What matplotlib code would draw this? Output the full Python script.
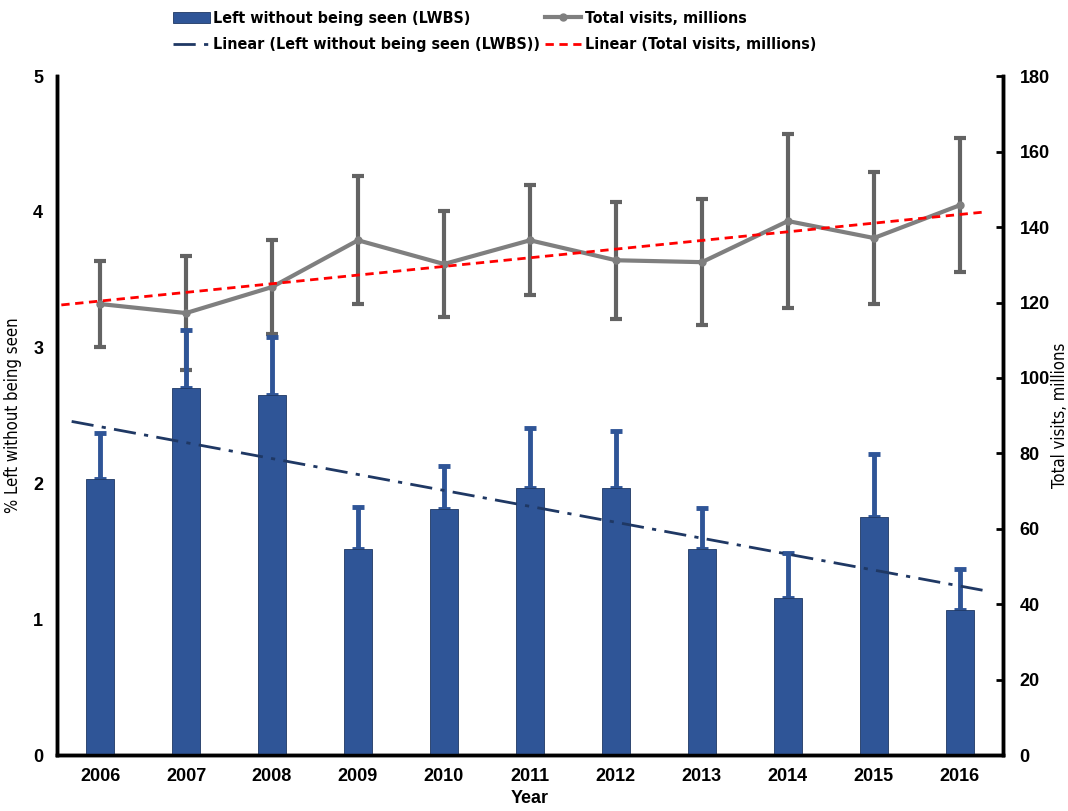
import matplotlib.pyplot as plt
import numpy as np
from matplotlib import font_manager
from matplotlib.font_manager import FontProperties

years = ["2006", "2007", "2008", "2009", "2010", "2011", "2012", "2013", "2014", "2015", "2016"]

# % left without being seen, with upper error
lwbs = [2.03, 2.70, 2.65, 1.52, 1.81, 1.97, 1.97, 1.52, 1.16, 1.75, 1.07]
lwbs_err = [0.34, 0.43, 0.43, 0.31, 0.32, 0.44, 0.42, 0.30, 0.33, 0.47, 0.30]

# total visits in millions, symmetric error
visits = [119.6, 117.2, 124.1, 136.5, 130.2, 136.5, 131.2, 130.7, 141.6, 137.1, 145.8]
visits_err = [11.5, 15.0, 12.5, 17.0, 14.0, 14.6, 15.5, 16.7, 23.0, 17.4, 17.7]

plt.rcParams['font.family'] = ['Liberation Sans', 'DejaVu Sans']


def pick_narrow(bold):
    # look for any condensed / narrow face that happens to be installed
    for f in font_manager.fontManager.ttflist:
        key = (f.name + ' ' + f.fname).lower()
        if ('narrow' in key or 'condensed' in key) and (f.weight in ('bold', 700)) == bold:
            if 'oblique' in key or 'italic' in key:
                continue
            return f.fname
    return None


nb = pick_narrow(True)
nr = pick_narrow(False)
if nb:
    legend_prop = FontProperties(fname=nb, size=11.5)
else:
    legend_prop = FontProperties(family='Liberation Sans', weight='bold', size=10)
if nr:
    label_prop = FontProperties(fname=nr, size=12)
else:
    label_prop = FontProperties(family='Liberation Sans', size=11)

fig = plt.figure(figsize=(10.68, 8.11), dpi=100)
ax = fig.add_axes([0.0534, 0.069, 0.8856, 0.837])
ax2 = ax.twinx()

x = np.arange(len(years))
bar_color = '#2f5597'

bars = ax.bar(x, lwbs, width=0.33, color=bar_color, edgecolor='#1f3864', linewidth=0.6,
              label='Left without being seen (LWBS)', zorder=2)
ax.errorbar(x, lwbs, yerr=[np.zeros(len(x)), lwbs_err], fmt='none', ecolor=bar_color,
            elinewidth=3.5, capsize=4, capthick=3.5, zorder=1)

# linear trend lines
p1 = np.polyfit(x, lwbs, 1)
p2 = np.polyfit(x, visits, 1)
xt1 = np.array([-0.33, 10.29])
xt2 = np.array([-0.45, 10.29])
trend1, = ax.plot(xt1, np.polyval(p1, xt1), color='#1f3864', lw=2, dashes=[8, 3, 1.5, 3],
                  label='Linear (Left without being seen (LWBS))', zorder=3)

ax2.errorbar(x, visits, yerr=visits_err, fmt='none', ecolor='#636363', elinewidth=3,
             capsize=4, capthick=3, zorder=2)
line2, = ax2.plot(x, visits, color='#7f7f7f', lw=3, marker='o', markersize=5,
                  markerfacecolor='#7f7f7f', markeredgecolor='#7f7f7f',
                  label='Total visits, millions', zorder=3)
trend2, = ax2.plot(xt2, np.polyval(p2, xt2), color='#ff0000', lw=2, dashes=[3, 2],
                   label='Linear (Total visits, millions)', zorder=4)

ax.set_xlim(-0.5, 10.5)
ax.set_ylim(0, 5)
ax2.set_ylim(0, 180)
ax.set_xticks(x)
ax.set_xticklabels(years)
ax.set_yticks(range(6))
ax2.set_yticks(range(0, 181, 20))

for a in (ax, ax2):
    a.spines['top'].set_visible(False)
    for s in ('left', 'right', 'bottom'):
        a.spines[s].set_linewidth(2.5)
    a.set_facecolor('none')
ax.set_zorder(ax2.get_zorder() + 1)

ax.tick_params(axis='x', length=0, pad=9, labelsize=13)
ax.tick_params(axis='y', length=0, pad=10, labelsize=13)
ax2.tick_params(axis='y', direction='in', length=5, width=2, pad=12, labelsize=13)
for lab in ax.get_xticklabels() + ax.get_yticklabels() + ax2.get_yticklabels():
    lab.set_fontweight('bold')

ax.set_xlabel('Year', fontsize=13, fontweight='bold', labelpad=4)
ax.set_ylabel('% Left without being seen', fontproperties=label_prop, labelpad=8)
ax2.set_ylabel('Total visits, millions', fontproperties=label_prop)
ax2.yaxis.set_label_coords((1051 / 1068 - 0.0534) / 0.8856, 0.5)

handles = [bars, trend1, line2, trend2]
fig.legend(handles, [h.get_label() for h in handles],
           loc='upper left', bbox_to_anchor=(165 / 1068, 1 - 3 / 811), ncol=2, frameon=False,
           prop=legend_prop, borderpad=0, handlelength=2.3, columnspacing=0.3,
           handletextpad=0.2, labelspacing=0.7)

fig.savefig('out.png', dpi=100)
